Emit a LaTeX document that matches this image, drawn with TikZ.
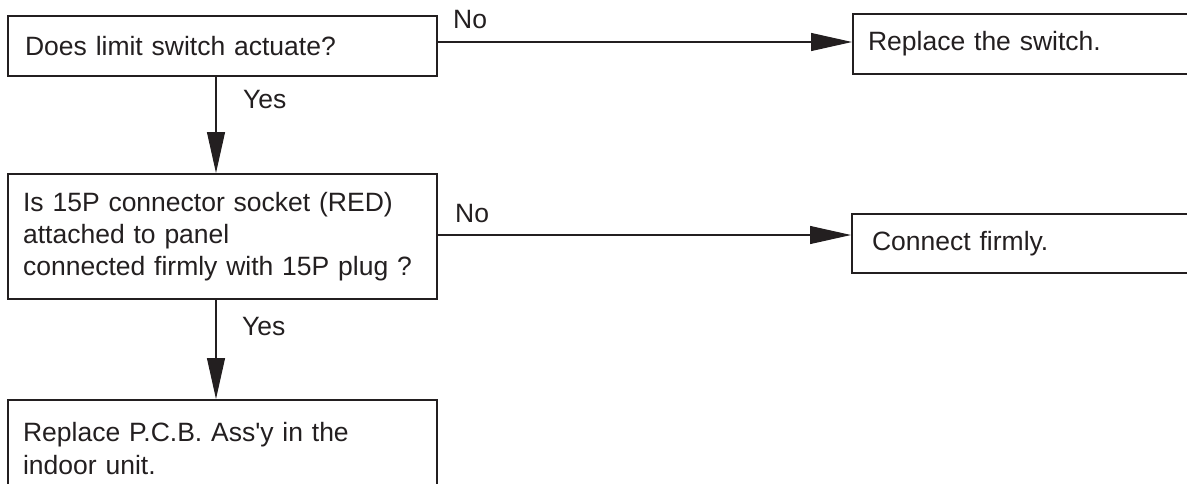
\documentclass[tikz,border=0pt]{standalone}
\usepackage{fontspec}
\setmainfont{Liberation Sans}
\newfontfamily\plainfont{Liberation Sans}[Ligatures=TeXOff]
\usetikzlibrary{arrows.meta}
\definecolor{ink}{RGB}{35,31,32}
\begin{document}
\begin{tikzpicture}[x=1pt,y=-1pt,
  every node/.style={text=ink},
  box/.style={draw=ink, line width=2.2pt, rectangle, anchor=north west,
    align=left, inner ysep=0pt, font=\fontsize{26.5}{32}\selectfont},
  lbl/.style={inner sep=0pt, anchor=base west, font=\fontsize{26.5}{32}\selectfont},
  arr/.style={draw=ink, line width=1.1pt, -{Triangle[length=41pt,width=18pt]}}]
\useasboundingbox (0,0) rectangle (1187,483);
\clip (0,0) rectangle (1187,483);
\fill[white] (0,0) rectangle (1187,483);

\node[box, minimum width=429pt, minimum height=60pt, inner xsep=17pt, text width=395pt] (b1) at (7,15) {Does limit switch actuate?};
\node[box, minimum width=429pt, minimum height=125pt, inner xsep=15pt, text width=399pt] (b2) at (7,173) {Is 15P connector socket (RED)\\attached to panel\\connected firmly with 15P plug ?};
\node[box, minimum width=429pt, minimum height=96pt, inner xsep=15pt, text width=399pt, font=\plainfont\fontsize{26.5}{33}\selectfont] (b3) at (7,399) {Replace P.C.B. Ass'y in the\\indoor unit.};
\node[box, minimum width=360pt, minimum height=60pt, inner xsep=15pt, text width=330pt] (bA) at (852,13) {Replace the switch.};
\node[box, minimum width=360pt, minimum height=59pt, inner xsep=20pt, text width=320pt] (bB) at (851,213) {Connect firmly.};

\coordinate (vx) at (216,0);
\coordinate (h1) at (0,42);
\coordinate (h2) at (0,235);

\draw[arr] (b1.east |- h1) -- (bA.west |- h1);
\draw[arr] (b2.east |- h2) -- (bB.west |- h2);
\draw[arr] (b1.south -| vx) -- (b2.north -| vx);
\draw[arr] (b2.south -| vx) -- (b3.north -| vx);

\node[lbl] (no1) at (453,28) {No};
\node[lbl] (no2) at (455,222) {No};
\node[lbl] (yes1) at (243,108) {Yes};
\node[lbl] (yes2) at (242,335) {Yes};
\end{tikzpicture}
\end{document}
